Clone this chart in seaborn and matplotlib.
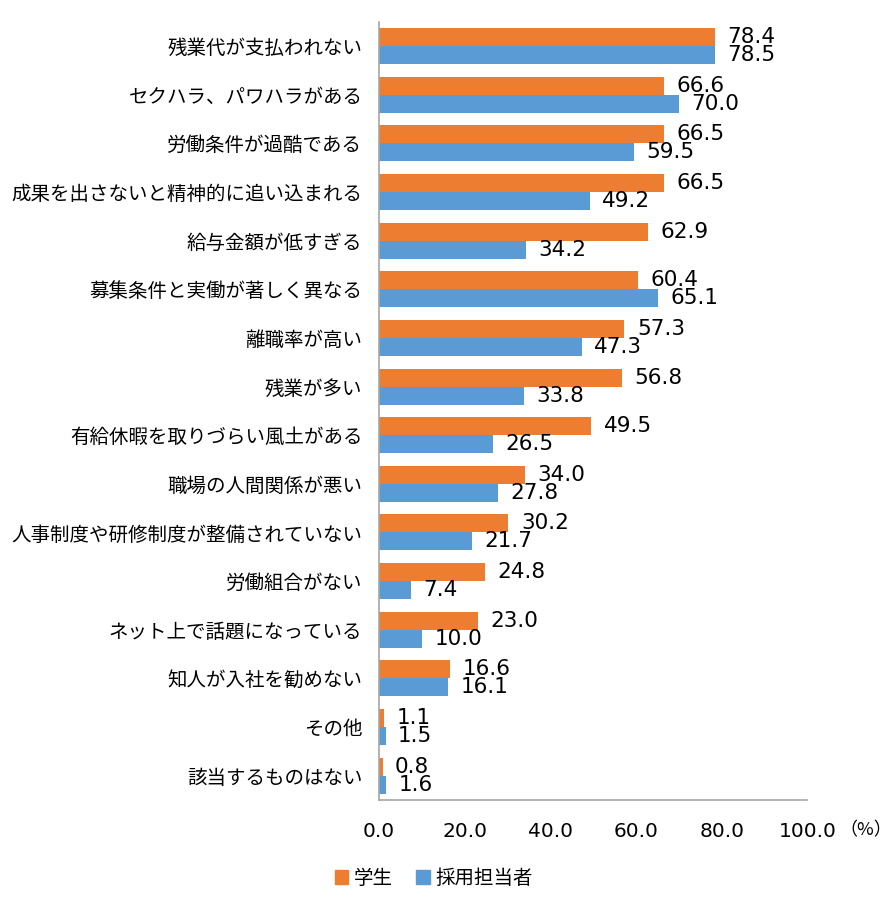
import matplotlib
matplotlib.use("Agg")
import matplotlib.pyplot as plt
import seaborn as sns
import pandas as pd

# データ
categories = [
    "残業代が支払われない",
    "セクハラ、パワハラがある",
    "労働条件が過酷である",
    "成果を出さないと精神的に追い込まれる",
    "給与金額が低すぎる",
    "募集条件と実働が著しく異なる",
    "離職率が高い",
    "残業が多い",
    "有給休暇を取りづらい風土がある",
    "職場の人間関係が悪い",
    "人事制度や研修制度が整備されていない",
    "労働組合がない",
    "ネット上で話題になっている",
    "知人が入社を勧めない",
    "その他",
    "該当するものはない",
]
students = [78.4, 66.6, 66.5, 66.5, 62.9, 60.4, 57.3, 56.8, 49.5, 34.0, 30.2, 24.8, 23.0, 16.6, 1.1, 0.8]
recruiters = [78.5, 70.0, 59.5, 49.2, 34.2, 65.1, 47.3, 33.8, 26.5, 27.8, 21.7, 7.4, 10.0, 16.1, 1.5, 1.6]
series = ["学生", "採用担当者"]
x_ticks = [0, 20, 40, 60, 80, 100]

df = pd.DataFrame({
    "項目": categories * 2,
    "値": students + recruiters,
    "属性": [series[0]] * len(categories) + [series[1]] * len(categories),
})

sns.set_theme(style="white")
plt.rcParams["font.family"] = ["Noto Sans CJK JP", "DejaVu Sans"]
plt.rcParams["text.color"] = "#000000"
plt.rcParams["xtick.color"] = "#000000"
plt.rcParams["ytick.color"] = "#000000"

fig = plt.figure(figsize=(8.92, 9.08), dpi=100)
ax = fig.add_axes([0.425, 0.119, 0.48, 0.857])

sns.barplot(data=df, y="項目", x="値", hue="属性", orient="h",
            palette=["#ED7D31", "#5B9BD5"], saturation=1, width=0.74, gap=0,
            linewidth=0, order=categories, hue_order=series, ax=ax, legend=False)

for cont in ax.containers:
    ax.bar_label(cont, fmt="%.1f", padding=9, fontsize=15.5,
                 family="DejaVu Sans", color="#000000")

ax.set_xlim(0, 100)
ax.set_xticks(x_ticks)
ax.set_xticklabels([f"{t:.1f}" for t in x_ticks], family="DejaVu Sans", fontsize=14.5)
ax.tick_params(axis="x", length=0, pad=16)
ax.tick_params(axis="y", length=0, pad=12, labelsize=14)
ax.set_xlabel("")
ax.set_ylabel("")

for s in ["top", "right"]:
    ax.spines[s].set_visible(False)
for s in ["left", "bottom"]:
    ax.spines[s].set_color("#A6A6A6")
    ax.spines[s].set_linewidth(1.2)

fig.text(0.971, 1 - 830 / 908, "（%）", fontsize=13, ha="center", va="center")

# 凡例
handles = [plt.Rectangle((0, 0), 1, 1, color=c) for c in ["#ED7D31", "#5B9BD5"]]
fig.legend(handles, series, loc="center", bbox_to_anchor=(434 / 892, 1 - 878 / 908),
           ncol=2, frameon=False, fontsize=14, handlelength=0.7, handleheight=0.7,
           handletextpad=0.3, columnspacing=1.2)

fig.savefig("out.png", dpi=100)
